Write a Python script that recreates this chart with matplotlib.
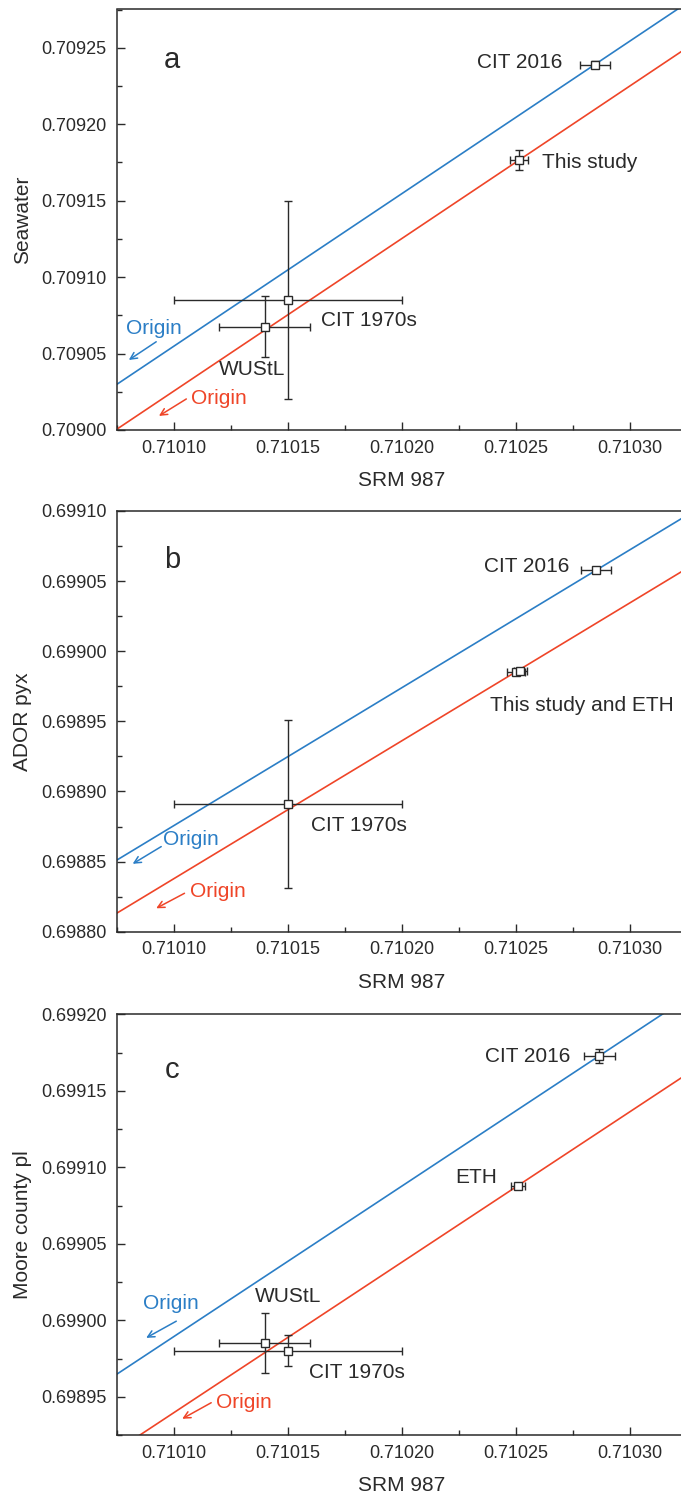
import numpy as np
import matplotlib
matplotlib.use("Agg")
import matplotlib.pyplot as plt
from matplotlib.ticker import MultipleLocator, FormatStrFormatter

plt.rcParams['font.family'] = ['Liberation Sans', 'DejaVu Sans']

# panel a: Seawater vs SRM 987
a_labels = ["CIT 2016", "This study", "CIT 1970s", "WUStL"]
a_x = [0.7102846, 0.7102514, 0.71015, 0.71014]
a_xerr = [0.0000067, 0.000004, 0.00005, 0.00002]
a_y = [0.709239, 0.7091765, 0.709085, 0.7090675]
a_yerr = [0.000002, 0.0000063, 0.000065, 0.00002]

# panel b: ADOR pyx vs SRM 987
b_labels = ["CIT 2016", "This study and ETH", "", "CIT 1970s"]
b_x = [0.710285, 0.710250, 0.710252, 0.71015]
b_xerr = [0.0000066, 0.000004, 0.000003, 0.00005]
b_y = [0.6990576, 0.6989853, 0.6989858, 0.698891]
b_yerr = [0.0000015, 0.000001, 0.000001, 0.00006]

# panel c: Moore county pl vs SRM 987
c_labels = ["CIT 2016", "ETH", "WUStL", "CIT 1970s"]
c_x = [0.7102865, 0.7102509, 0.71014, 0.71015]
c_xerr = [0.0000068, 0.000003, 0.00002, 0.00005]
c_y = [0.6991728, 0.699088, 0.6989852, 0.6989802]
c_yerr = [0.0000044, 0.000001, 0.0000198, 0.00001]

BLUE = '#2b7ec6'
RED = '#ef4528'
INK = '#2a2a2a'

fig = plt.figure(figsize=(6.81, 14.97), dpi=100)

panels = [
    dict(letter='a', ylabel='Seawater', ylim=(0.70900, 0.709275),
         x=a_x, xerr=a_xerr, y=a_y, yerr=a_yerr, labels=a_labels,
         blue_ref=0, red_ref=1,
         offs=[(-32, 2, 'right'), (23, -2, 'left'), (33, -20, 'left'), (-46, -43, 'left')],
         rect=[116.5 / 681, 1 - 430 / 1497, 570.5 / 681, 420.5 / 1497],
         letter_y=0.860,
         blue_txt=(0.710079, 0.7090665), blue_arr=((0.7100924, 0.7090577), (0.7100804, 0.7090458)),
         red_txt=(0.7101078, 0.7090203), red_arr=((0.7101056, 0.7090203), (0.7100936, 0.7090092))),
    dict(letter='b', ylabel='ADOR pyx', ylim=(0.69880, 0.69910),
         x=b_x, xerr=b_xerr, y=b_y, yerr=b_yerr, labels=b_labels,
         blue_ref=0, red_ref=1,
         offs=[(-26, 4, 'right'), (-26, -34, 'left'), (0, 0, 'left'), (23, -21, 'left')],
         rect=[116.5 / 681, 1 - 931.7 / 1497, 570.5 / 681, 420.7 / 1497],
         letter_y=0.864,
         blue_txt=(0.7100953, 0.6988655), blue_arr=((0.7100946, 0.6988607), (0.7100821, 0.6988484)),
         red_txt=(0.710107, 0.6988286), red_arr=((0.7101048, 0.6988274), (0.7100924, 0.6988167))),
    dict(letter='c', ylabel='Moore county pl', ylim=(0.698925, 0.69920),
         x=c_x, xerr=c_xerr, y=c_y, yerr=c_yerr, labels=c_labels,
         blue_ref=0, red_ref=1,
         offs=[(-29, -1, 'right'), (-21, 8, 'right'), (-10, 46, 'left'), (21, -22, 'left')],
         rect=[116.5 / 681, 1 - 1435 / 1497, 570.5 / 681, 420.7 / 1497],
         letter_y=0.848,
         blue_txt=(0.7100865, 0.6990109), blue_arr=((0.7101012, 0.6989994), (0.710088, 0.6989885)),
         red_txt=(0.7101187, 0.6989461), red_arr=((0.7101165, 0.6989461), (0.7101038, 0.6989356))),
]

xlim = (0.710075, 0.710325)

for p in panels:
    ax = fig.add_axes(p['rect'])
    ax.set_xlim(*xlim)
    ax.set_ylim(*p['ylim'])

    # lines through the origin, fixed by the reference points
    xs = np.array(xlim)
    kb = p['y'][p['blue_ref']] / p['x'][p['blue_ref']]
    kr = p['y'][p['red_ref']] / p['x'][p['red_ref']]
    ax.plot(xs, kb * xs, color=BLUE, lw=1.2, zorder=2)
    ax.plot(xs, kr * xs, color=RED, lw=1.2, zorder=2)

    ax.errorbar(p['x'], p['y'], xerr=p['xerr'], yerr=p['yerr'], fmt='s',
                ms=6, mfc='white', mec=INK, mew=1.0, ecolor=INK,
                elinewidth=1.0, capsize=3, capthick=1.0, zorder=5)

    for xi, yi, lab, (dx, dy, ha) in zip(p['x'], p['y'], p['labels'], p['offs']):
        if lab:
            ax.annotate(lab, xy=(xi, yi), xytext=(dx, dy), textcoords='offset pixels',
                        ha=ha, va='center', fontsize=15, color=INK)

    ax.text(p['blue_txt'][0], p['blue_txt'][1], 'Origin', color=BLUE, fontsize=15,
            ha='left', va='center')
    ax.annotate('', xy=p['blue_arr'][1], xytext=p['blue_arr'][0],
                arrowprops=dict(arrowstyle='->', color=BLUE, lw=1.1, mutation_scale=12,
                                shrinkA=0, shrinkB=0))
    ax.text(p['red_txt'][0], p['red_txt'][1], 'Origin', color=RED, fontsize=15,
            ha='left', va='center')
    ax.annotate('', xy=p['red_arr'][1], xytext=p['red_arr'][0],
                arrowprops=dict(arrowstyle='->', color=RED, lw=1.1, mutation_scale=12,
                                shrinkA=0, shrinkB=0))

    ax.text(0.0973, p['letter_y'], p['letter'], transform=ax.transAxes,
            fontsize=21, ha='center', va='baseline', color=INK)

    ax.xaxis.set_major_locator(MultipleLocator(0.00005))
    ax.xaxis.set_minor_locator(MultipleLocator(0.000025))
    ax.yaxis.set_major_locator(MultipleLocator(0.00005))
    ax.yaxis.set_minor_locator(MultipleLocator(0.000025))
    ax.xaxis.set_major_formatter(FormatStrFormatter('%.5f'))
    ax.yaxis.set_major_formatter(FormatStrFormatter('%.5f'))
    ax.tick_params(which='major', direction='in', length=6, width=1.0, color=INK,
                   labelsize=13, labelcolor=INK, pad=7)
    ax.tick_params(which='minor', direction='in', length=3.5, width=1.0, color=INK)
    for s in ax.spines.values():
        s.set_color(INK)
        s.set_linewidth(1.1)

    ax.set_xlabel('SRM 987', fontsize=15, color=INK)
    ax.xaxis.set_label_coords(0.5, -0.097)
    ax.set_ylabel(p['ylabel'], fontsize=15, color=INK)
    ax.yaxis.set_label_coords(-0.148, 0.5)

fig.savefig('out.png', dpi=100, facecolor='white')
